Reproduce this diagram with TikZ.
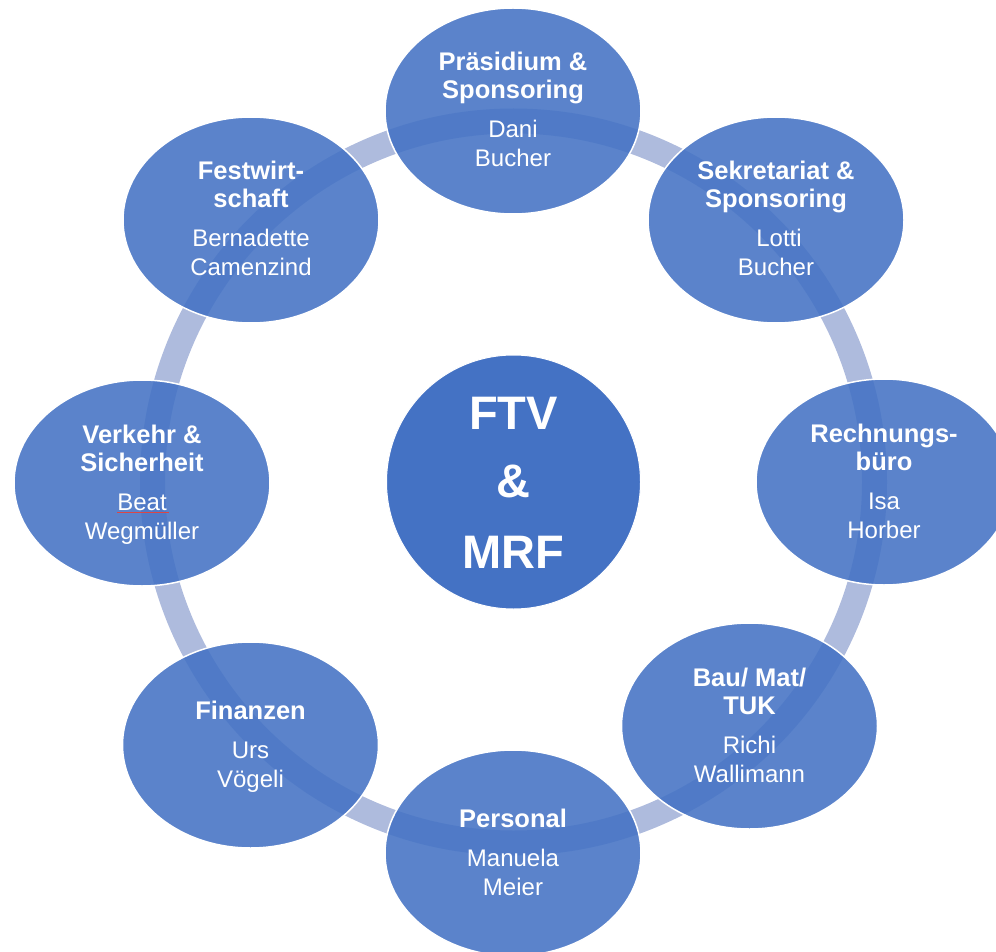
\documentclass[tikz,border=0pt]{standalone}
\usepackage{fontspec}
\setmainfont{Liberation Sans}
\usetikzlibrary{shapes.geometric}
\definecolor{bubfill}{RGB}{68,114,196}
\definecolor{ringc}{RGB}{174,187,221}
\definecolor{ctrfill}{RGB}{68,114,196}
\definecolor{spellred}{RGB}{220,70,70}
\tikzset{
 bub/.style={ellipse, minimum width=256pt, minimum height=206pt, inner sep=0pt, fill=bubfill, fill opacity=0.88, draw=white, line width=1.5pt},
 ctrc/.style={circle, minimum size=254pt, inner sep=0pt, fill=ctrfill, draw=white, line width=1pt},
 ttl/.style={text=white, font=\fontsize{25.5}{28}\selectfont\bfseries, anchor=base, inner sep=0pt},
 nam/.style={text=white, font=\fontsize{24}{29}\selectfont, anchor=base, inner sep=0pt},
 big/.style={text=white, font=\fontsize{47}{56}\selectfont\bfseries, anchor=base, inner sep=0pt},
 ringline/.style={draw=ringc, line width=25pt},
}
\newcommand\bubfour[7]{%
 \node[bub] (#1) at (#2,#3) {};
 \node[ttl] (#1a) at (#2,#3-40) {#4};
 \node[ttl] (#1b) at (#2,#3-12) {#5};
 \node[nam] (#1c) at (#2,#3+27) {#6};
 \node[nam] (#1d) at (#2,#3+56) {#7};}
\newcommand\bubthree[6]{%
 \node[bub] (#1) at (#2,#3) {};
 \node[ttl] (#1a) at (#2,#3-26) {#4};
 \node[nam] (#1c) at (#2,#3+13.5) {#5};
 \node[nam] (#1d) at (#2,#3+42.5) {#6};}
\begin{document}
\begin{tikzpicture}[x=1pt,y=-1pt]
\useasboundingbox (0,0) rectangle (996,952);
\clip (0,0) rectangle (996,952);
\coordinate (c) at (513.5,482);
\draw[ringline] (c) circle[radius=361pt];
\node[ctrc] (ctr) at (c) {};
\node[big] (ctr1) at (513.5,429) {FTV};
\node[big] (ctr2) at (513.5,497) {\&};
\node[big] (ctr3) at (513.5,568) {MRF};
\bubfour{pra}{513}{111}{Präsidium \&}{Sponsoring}{Dani}{Bucher}
\bubfour{sek}{776}{220}{Sekretariat \&}{Sponsoring}{\hspace{6pt}Lotti}{Bucher}
\bubfour{rec}{884}{482}{Rechnungs-}{büro}{Isa}{Horber}
\bubfour{bau}{749.5}{726}{Bau/ Mat/}{TUK}{Richi}{Wallimann}
\bubthree{per}{513}{853}{Personal}{Manuela}{Meier}
\bubthree{fin}{250.5}{745}{Finanzen}{Urs}{Vögeli}
\bubfour{ver}{142}{483}{Verkehr \&}{Sicherheit}{Beat}{Wegmüller}
\bubfour{fes}{251}{220}{Festwirt-}{schaft}{Bernadette}{Camenzind}
\draw[spellred, line width=0.9pt] (verc.base west) ++(0,2) -- ++(52,0);
\end{tikzpicture}
\end{document}
